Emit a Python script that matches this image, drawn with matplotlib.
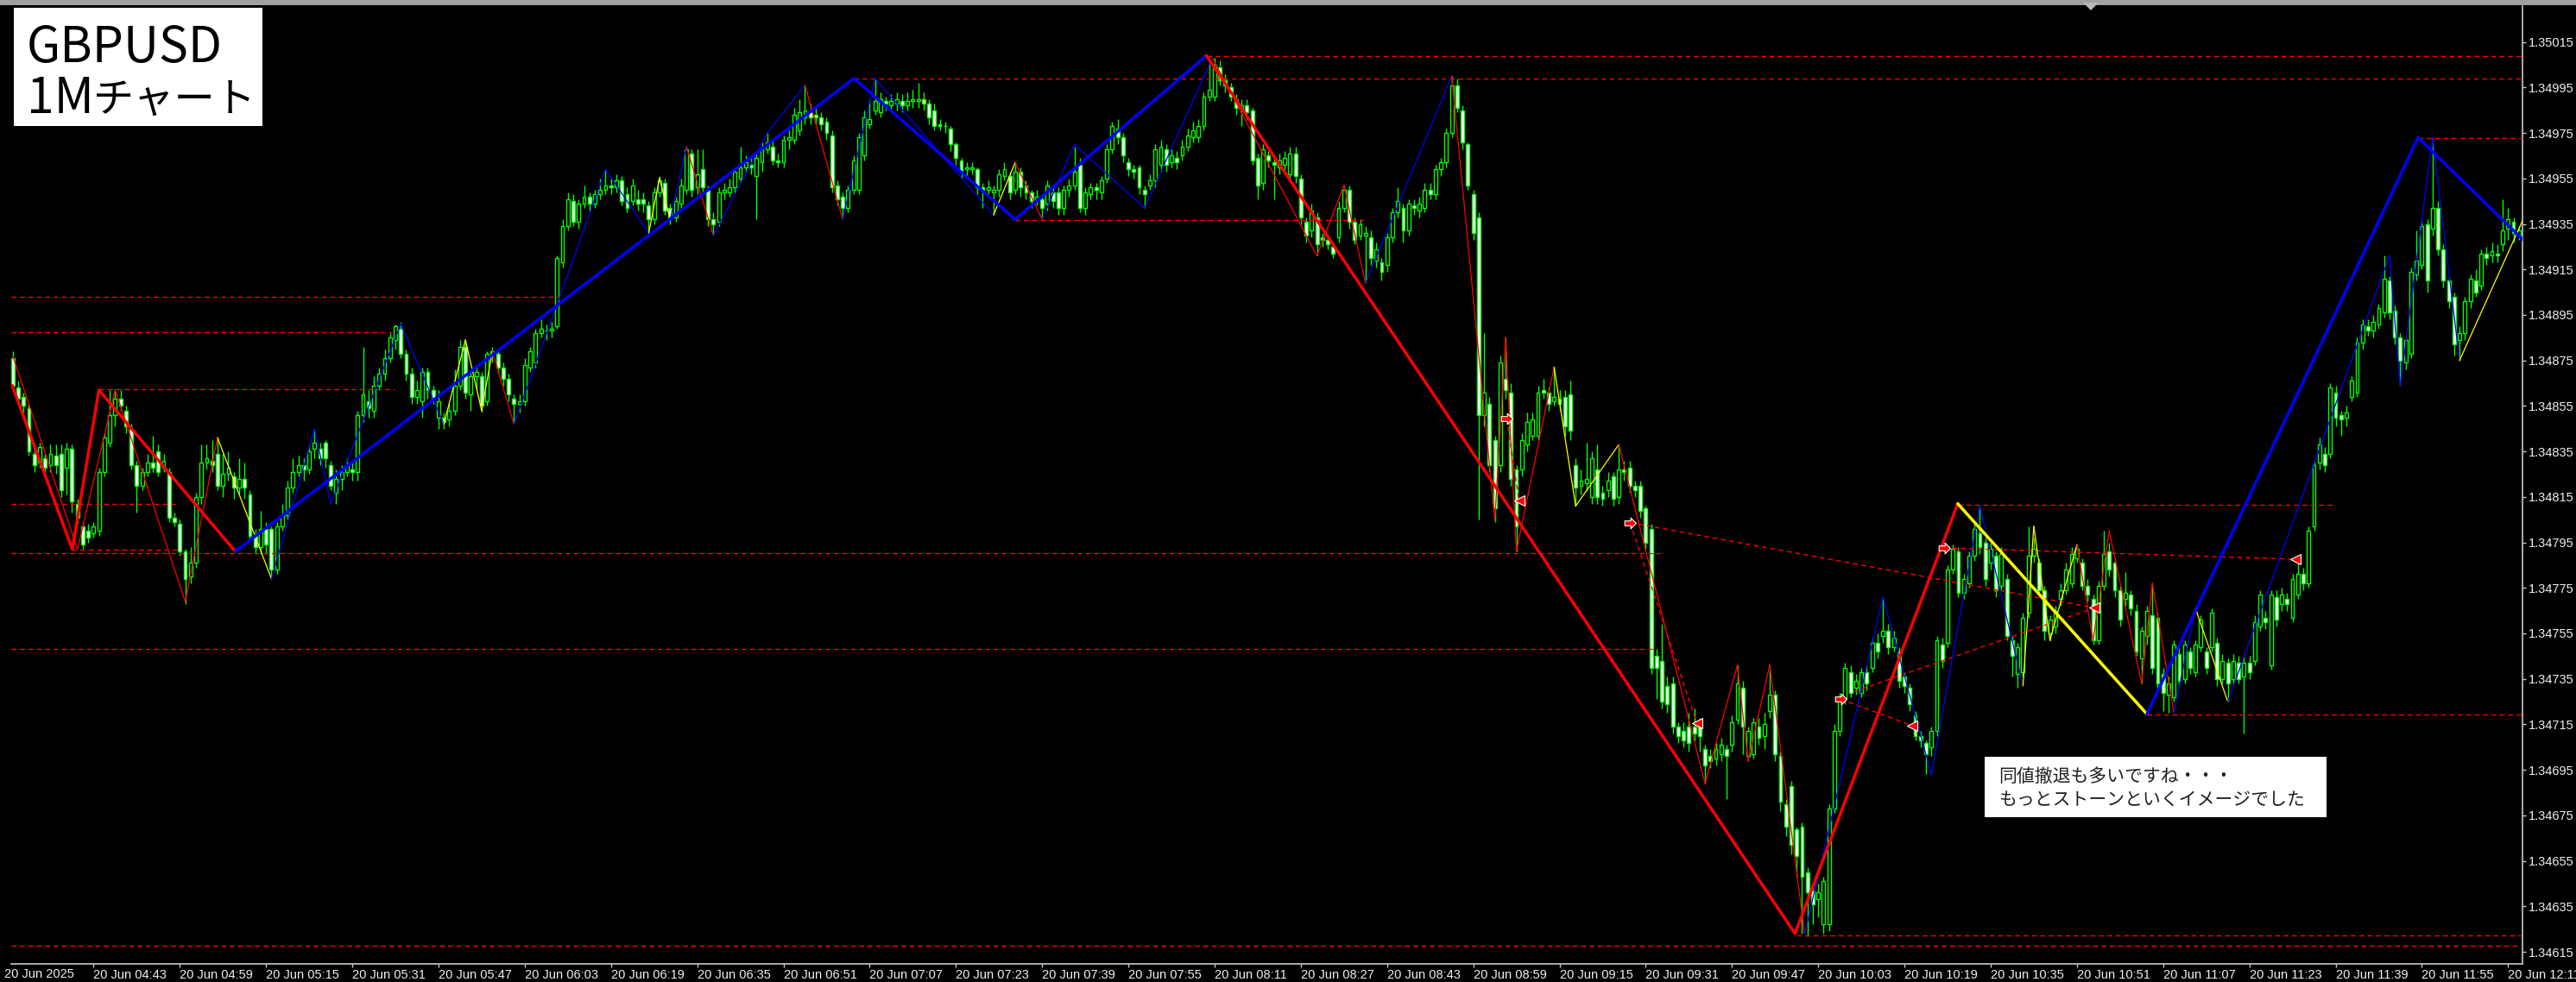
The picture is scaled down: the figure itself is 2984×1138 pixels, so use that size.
import matplotlib
matplotlib.use('Agg')
import matplotlib.pyplot as plt
from matplotlib.patches import Rectangle, Polygon
from matplotlib.path import Path
import numpy as np

W, H, DPI = 2984, 1138, 100
BASE = 1.34000      # prices below are in points (1e-5) above BASE
PT = 1e-5

# minute index 0 = 20 Jun 04:27 ; candles are minutes 1..466 (04:28 .. 12:13)
first_minute = 1
opens = [876,863,859,854,834,830,832,829,833,834,828,836,812,802,800,799,800,826,839,851,
858,853,845,829,820,826,830,835,828,826,806,803,791,780,786,815,830,831,834,820,
825,824,819,823,816,798,793,801,801,783,802,807,819,826,829,827,836,836,839,829,
817,823,826,827,826,851,857,853,864,869,876,884,889,878,869,859,857,870,862,850,
850,849,853,864,881,860,868,868,857,878,878,872,867,858,856,857,872,874,887,888,
888,890,918,934,945,936,944,947,944,948,950,952,951,954,948,945,946,946,943,937,
949,953,942,938,944,950,966,951,959,950,937,936,949,949,951,955,960,961,956,962,
968,969,963,962,972,972,976,982,984,983,982,980,974,952,947,942,950,950,965,979,
985,984,989,987,988,989,987,989,989,990,988,985,979,978,977,970,963,959,959,959,
951,950,949,950,956,956,950,958,952,949,946,946,944,949,949,942,950,952,961,942,
948,951,949,955,968,977,973,962,959,960,950,952,954,961,968,962,964,965,969,973,
973,978,991,991,1004,998,995,990,986,987,985,964,953,965,962,960,961,957,966,955,
936,932,938,929,928,925,929,942,950,936,930,930,929,919,918,917,929,940,942,932,
943,941,942,950,948,959,962,975,996,985,970,948,938,851,856,840,829,867,861,827,
827,838,842,842,862,861,857,858,859,860,829,820,821,815,827,817,818,824,815,827,
828,820,820,810,801,745,743,732,733,714,712,714,714,716,704,701,700,702,704,706,
717,731,701,702,714,710,721,728,701,680,688,669,670,650,642,638,627,627,678,712,
726,738,731,729,738,740,751,754,756,749,747,736,731,719,710,707,705,712,750,751,
783,791,773,777,789,799,795,786,789,776,779,752,737,738,764,789,786,774,755,758,
770,774,777,788,786,776,770,752,776,791,786,774,770,772,765,744,754,763,762,737,
728,727,746,735,747,738,749,747,749,751,735,742,735,742,736,742,743,758,762,741,
771,768,770,762,772,781,777,802,830,834,834,861,851,850,859,861,883,890,888,891,
896,910,897,885,874,878,913,917,935,933,942,924,910,903,884,887,901,910,908,922,
921,922,926,933,936,930]
highs = [879,866,861,856,836,839,834,838,838,838,839,838,814,804,803,804,828,843,862,862,
862,855,847,831,828,834,842,838,834,828,808,805,792,793,817,838,838,840,841,834,
835,826,832,830,818,801,809,804,802,804,812,822,832,833,832,838,845,839,840,831,
827,829,832,831,853,881,862,868,872,880,887,891,892,880,872,866,872,872,864,862,
852,856,871,884,883,870,872,870,879,881,880,874,869,860,860,876,881,889,893,891,
892,921,937,949,948,946,952,949,950,955,959,955,957,956,951,955,950,949,945,951,
956,955,944,947,955,969,968,968,968,952,940,951,953,955,960,969,965,964,967,971,
975,972,966,974,976,986,990,996,988,987,984,982,976,954,949,952,965,975,985,990,
999,993,991,992,993,992,993,994,997,993,990,988,981,980,978,971,964,962,962,960,
953,954,952,959,962,958,962,960,954,950,950,948,954,952,951,952,955,969,964,951,
953,953,956,970,980,981,975,964,961,961,952,957,970,972,970,968,967,972,977,980,
981,993,1006,1008,1007,1001,997,992,990,990,986,966,970,967,965,966,967,969,969,957,
938,944,940,931,930,927,945,952,952,938,937,934,932,927,920,931,942,951,944,946,
946,947,953,953,961,964,977,1000,999,987,971,950,940,887,859,842,877,885,865,829,
843,852,852,864,867,863,872,862,862,866,832,827,839,835,838,820,826,826,838,831,
831,822,822,811,803,748,759,736,736,716,716,720,722,718,706,704,707,709,706,719,
741,734,714,718,718,720,741,730,703,682,690,670,672,652,645,645,648,680,715,729,
742,741,737,740,741,753,755,771,759,756,749,738,733,721,712,708,714,754,753,785,
794,793,781,791,803,811,797,795,791,793,781,754,751,764,802,797,788,776,763,767,
777,786,793,794,788,779,772,778,800,795,788,776,782,774,768,758,767,777,764,740,
736,752,750,752,749,752,763,749,766,753,746,744,746,745,745,745,763,774,765,774,
774,775,773,781,786,784,802,831,841,837,865,864,853,855,868,885,893,893,895,900,
921,912,899,887,886,916,932,936,937,973,945,926,912,905,890,903,913,915,924,925,
927,926,946,942,938,934]
lows = [862,855,852,833,826,828,825,826,825,815,816,808,803,792,795,797,798,824,837,846,
853,843,827,808,818,824,826,824,826,804,802,789,768,777,784,812,827,826,818,815,
822,814,816,814,796,790,790,790,779,781,800,805,817,824,822,825,832,829,828,818,
812,818,824,822,822,848,850,850,862,866,874,880,876,866,856,856,850,858,856,845,
845,846,851,862,858,853,862,852,855,874,869,864,857,847,852,855,870,872,885,884,
885,889,916,932,934,933,942,941,942,946,948,948,949,943,940,943,941,940,931,935,
947,939,935,936,942,948,947,948,948,934,930,934,946,947,949,953,958,957,937,958,
966,961,960,960,968,970,974,979,979,979,976,972,949,943,937,940,948,948,963,977,
983,982,985,985,985,984,985,986,986,985,979,976,976,975,967,961,955,956,957,948,
942,947,939,947,954,946,948,947,946,942,943,937,941,942,939,939,947,950,940,939,
946,946,946,953,966,970,962,956,955,948,942,950,951,958,958,960,959,963,967,971,
971,976,989,989,996,993,989,983,978,981,961,946,950,960,946,957,958,955,953,935,
927,929,921,925,924,920,927,940,933,926,928,909,917,916,910,914,927,938,927,930,
939,938,940,946,946,956,960,973,984,968,950,928,805,846,826,804,826,858,820,791,
824,835,840,840,858,853,855,853,842,840,811,816,818,812,812,811,815,811,812,822,
817,815,806,792,737,726,722,720,711,707,705,703,708,703,689,696,697,699,682,703,
715,702,699,700,706,704,718,699,677,666,658,648,623,622,627,630,623,624,676,710,
724,727,728,727,730,738,744,751,746,747,731,729,721,708,705,693,701,710,740,749,
781,771,770,775,787,790,776,783,771,774,752,736,731,736,762,786,772,752,752,755,
767,772,775,786,774,769,750,750,774,780,771,758,767,763,745,733,750,737,730,721,
720,725,731,733,737,736,747,737,747,732,733,725,733,733,711,735,741,756,757,739,
758,765,765,760,770,774,775,800,827,826,832,846,842,846,857,859,880,886,885,889,
894,893,882,864,871,876,910,915,905,930,921,907,898,877,875,884,898,903,906,917,
918,918,923,928,927,928]
closes = [864,858,855,835,829,837,828,834,829,818,836,813,806,794,797,802,826,841,851,858,
855,846,829,820,826,830,828,826,831,806,804,791,779,786,815,830,832,829,820,825,
828,819,823,819,798,793,801,794,783,802,807,819,826,829,827,835,839,832,832,820,
823,826,829,826,851,860,854,864,869,876,885,890,878,869,859,862,870,862,858,857,
848,853,864,881,861,868,870,855,878,879,872,867,860,856,857,873,879,887,889,888,
889,920,934,946,936,944,947,944,948,950,952,951,954,945,942,952,944,944,937,949,
954,941,938,945,952,968,950,957,951,937,935,949,950,951,958,960,962,960,964,968,
971,963,962,972,973,983,984,985,982,982,979,975,951,946,942,950,963,973,982,981,
989,990,988,989,990,987,989,990,990,988,982,978,978,978,970,964,958,960,960,951,
950,951,950,957,959,949,958,951,949,945,947,942,952,945,942,950,952,958,942,949,
951,950,954,968,978,973,965,959,958,951,948,954,968,969,961,965,962,969,974,976,
978,991,994,1005,998,996,991,986,987,984,963,952,968,963,961,963,964,966,956,938,
930,941,926,928,926,922,942,950,936,928,935,931,920,924,914,929,940,945,932,944,
942,944,950,948,959,962,975,996,986,971,952,931,851,861,829,810,874,862,823,802,
840,848,849,861,861,856,859,856,846,844,819,822,823,832,815,814,822,814,827,826,
820,818,809,795,740,740,725,724,714,710,708,707,711,710,697,699,704,706,701,716,
733,714,712,716,709,715,728,702,681,670,662,657,648,641,636,641,646,678,712,727,
740,729,734,738,733,751,747,756,749,753,734,732,724,710,708,702,712,752,743,783,
792,773,779,789,801,793,779,792,774,790,754,745,749,762,789,792,774,756,761,765,
774,783,790,792,776,772,752,776,790,783,774,761,773,766,747,756,765,740,733,729,
733,750,734,750,740,750,761,740,764,735,743,733,743,735,742,738,760,772,760,772,
761,772,768,779,781,777,800,829,838,829,863,850,849,852,866,883,891,888,892,898,
911,896,885,875,884,914,919,934,910,942,924,910,901,882,887,901,911,905,922,920,
923,921,932,937,931,932]

# time axis labels (minute index, text)
tick_minutes = [16,32,48,64,80,96,112,128,144,160,176,192,208,224,240,256,272,288,304,320,
                336,352,368,384,400,416,432,448,464]
tick_labels = ['20 Jun 04:43','20 Jun 04:59','20 Jun 05:15','20 Jun 05:31','20 Jun 05:47',
               '20 Jun 06:03','20 Jun 06:19','20 Jun 06:35','20 Jun 06:51','20 Jun 07:07',
               '20 Jun 07:23','20 Jun 07:39','20 Jun 07:55','20 Jun 08:11','20 Jun 08:27',
               '20 Jun 08:43','20 Jun 08:59','20 Jun 09:15','20 Jun 09:31','20 Jun 09:47',
               '20 Jun 10:03','20 Jun 10:19','20 Jun 10:35','20 Jun 10:51','20 Jun 11:07',
               '20 Jun 11:23','20 Jun 11:39','20 Jun 11:55','20 Jun 12:11']
first_label = '20 Jun 2025'
price_ticks = [1.34615,1.34635,1.34655,1.34675,1.34695,1.34715,1.34735,1.34755,1.34775,
               1.34795,1.34815,1.34835,1.34855,1.34875,1.34895,1.34915,1.34935,1.34955,
               1.34975,1.34995,1.35015]

# major zigzag (thick) : colour, pivots (minute, points)
thick_lines = [
    ('#FF0000', [(0.9, 864), (12.05, 792), (17.0, 862), (42.3, 791)]),
    ('#0000FF', [(42.3, 791), (157.1, 999), (187.0, 937), (222.5, 1009)]),
    ('#FF0000', [(222.5, 1009), (331.7, 623), (361.9, 812)]),
    ('#FFFF00', [(361.9, 812), (397.0, 719.5)]),
    ('#0000FF', [(397.0, 719.5), (447.3, 973), (466.8, 928)]),
]
# minor zigzag (thin) : pivots (minute, points, colour of the leg that starts there)
thin_pivots = [
    (1, 877, 'r'), (13, 792, 'r'), (20, 862, 'r'), (33, 769, 'r'), (39, 841, 'y'),
    (49, 779, 'b'), (57, 845, 'b'), (60, 812, 'b'), (73, 891, 'b'), (81, 847, 'y'),
    (85, 884, 'y'), (88, 853, 'y'), (90, 879, 'r'), (94, 847, 'b'), (111, 959, 'b'),
    (119, 931, 'y'), (121, 955, 'y'), (123, 937, 'b'), (126, 969, 'r'), (131, 930, 'b'),
    (141, 975, 'b'), (148, 996, 'r'), (155, 937, 'b'), (161, 999, 'b'), (183, 939, 'y'),
    (187, 962, 'r'), (192, 937, 'b'), (198, 970, 'b'), (211, 942, 'b'), (223.6, 1008, 'r'),
    (243, 921, 'r'), (248, 952, 'r'), (252, 909, 'b'), (268, 1000, 'r'), (276, 805, 'r'),
    (278, 885, 'r'), (280, 791, 'r'), (287, 872, 'y'), (291, 811, 'y'), (299, 838, 'r'),
    (315, 689, 'r'), (321, 741, 'r'), (323, 699, 'r'), (327, 741, 'r'), (333.5, 623, 'b'),
    (348, 771, 'b'), (357, 693, 'b'), (366, 811, 'b'), (374, 732, 'y'), (376, 802, 'y'),
    (379, 752, 'y'), (384, 794, 'r'), (387, 752, 'r'), (390, 800, 'r'), (396, 733, 'r'),
    (398, 777, 'r'), (402, 720, 'b'), (406, 766, 'y'), (412, 725, 'b'), (442, 921, 'b'),
    (444, 864, 'b'), (450, 973, 'b'), (455, 875, 'y'), (466.8, 937, 'y'),
]
# horizontal dashed levels: (points, start minute, end minute)
levels = [
    (1008.8, 222.5, 467), (999.0, 157.1, 467), (972.7, 447.3, 467), (936.7, 187.0, 251.7),
    (903.0, 0.7, 102.3), (887.5, 0.7, 71.4), (862.5, 17.0, 71.8), (811.9, 0.7, 31.6),
    (811.7, 361.9, 431.6), (790.3, 0.7, 306.7), (748.2, 0.7, 305.4), (719.5, 397.0, 467),
    (622.2, 332.0, 466.4), (617.7, 0.7, 466.4), (791.8, 12.0, 31.6),
]
# sloped dashed lines between arrow marks
slopes = [
    ((278.2, 849.5), (280.5, 813.3)), ((301.1, 803.7), (313.5, 715.4)),
    ((301.1, 803.7), (387.3, 766.2)), ((340.2, 726.0), (353.4, 714.5)),
    ((342.6, 729.4), (387.3, 766.2)), ((359.3, 792.6), (424.5, 787.6)),
]
right_arrows = [(278.2, 849.5), (301.1, 803.7), (340.2, 726.0), (359.3, 792.6)]
left_marks = [(280.5, 813.3), (313.5, 715.4), (353.4, 714.5), (387.3, 766.2), (424.5, 787.6)]

title_line1 = 'GBPUSD'
title_line2 = ('1M', 'チャート')
note_lines = ['同値撤退も多いですね・・・', 'もっとストーンといくイメージでした']

# ---------------------------------------------------------------------------
CJK = ['Noto Sans CJK JP', 'DejaVu Sans']
UI = ['Liberation Sans', 'DejaVu Sans']
plt.rcParams['font.family'] = UI

fig = plt.figure(figsize=(W / DPI, H / DPI), dpi=DPI, facecolor='black')
L, R, T, B = 13, 2921.7, 7, 1117
ax = fig.add_axes([L / W, 1 - B / H, (R - L) / W, (B - T) / H])
ax.set_facecolor('black')

def P(v):
    return BASE + np.asarray(v, dtype=float) * PT

o = P(opens); h = P(highs); lo = P(lows); c = P(closes)
x = np.arange(first_minute, first_minute + len(opens))
LIME = '#00FF00'
ax.vlines(x, lo, h, color=LIME, lw=1.0, zorder=2)
bear = c < o
ax.bar(x, c - o, bottom=o, width=0.62, facecolor=np.where(bear, 'white', 'black'),
       edgecolor=LIME, linewidth=1.0, zorder=3)

dash = (0, (4.0, 3.0))
for v, m0, m1 in levels:
    ax.plot([m0, m1], [P(v), P(v)], color='#FF0000', lw=1.0, ls=dash, zorder=4)
for (m0, v0), (m1, v1) in slopes:
    ax.plot([m0, m1], [P(v0), P(v1)], color='#FF0000', lw=1.0, ls=dash, zorder=4)

cmap = {'r': '#FF0000', 'b': '#0000FF', 'y': '#FFFF00'}
for a, b in zip(thin_pivots[:-1], thin_pivots[1:]):
    ax.plot([a[0], b[0]], [P(a[1]), P(b[1])], color=cmap[a[2]], lw=0.9, zorder=5)
for col, pts in thick_lines:
    ms, vs = zip(*pts)
    ax.plot(ms, P(vs), color=col, lw=2.5, zorder=6, solid_capstyle='round')

arrow = Path([(-1.0, -0.45), (0.1, -0.45), (0.1, -1.0), (1.1, 0.0), (0.1, 1.0),
              (0.1, 0.45), (-1.0, 0.45), (-1.0, -0.45)])
ms, vs = zip(*right_arrows)
ax.plot(ms, P(vs), ls='none', marker=arrow, ms=10, mfc='#FF0000', mec='white', mew=0.8, zorder=7)
ms, vs = zip(*left_marks)
ax.plot(ms, P(vs), ls='none', marker='<', ms=8, mfc='#FF0000', mec='white', mew=0.8, zorder=7)

ax.set_yticks(price_ticks)
ax.set_yticklabels([f'{p:.5f}' for p in price_ticks])
ax.set_xticks(tick_minutes)
ax.set_xticklabels(tick_labels, ha='left')
ax.set_xlim(0.72, 466.63)
ax.set_ylim(P(609.7), P(1030.8))

for s in ('top', 'left'):
    ax.spines[s].set_visible(False)
for s in ('right', 'bottom'):
    ax.spines[s].set_color('#C8C8C8')
    ax.spines[s].set_linewidth(1.2)

TXT = '#F0F0F0'
ax.yaxis.tick_right()
ax.tick_params(axis='y', direction='out', length=3, width=1.0, color='#C8C8C8',
               labelcolor=TXT, labelsize=10.5, pad=2.5)
ax.tick_params(axis='x', direction='out', length=3, width=1.0, color='#C8C8C8',
               labelcolor=TXT, labelsize=10.5, pad=1.0)

def fx(px):
    return px / W
def fy(py):
    return 1 - py / H

fig.text(fx(86), fy(1122.0), first_label, ha='right', va='top', color=TXT,
         fontsize=10.5, family=UI)

# window frame strip at the top, with the chart-shift triangle
fig.add_artist(Rectangle((0, fy(6)), 1, 6 / H, transform=fig.transFigure,
                         facecolor='#A0A0A0', edgecolor='none', zorder=9))
fig.add_artist(Polygon([(fx(2413), fy(3)), (fx(2431), fy(3)), (fx(2422), fy(12))],
                       closed=True, transform=fig.transFigure, facecolor='#B8B8B8',
                       edgecolor='none', zorder=9))

# title box
fig.add_artist(Rectangle((fx(16), fy(146)), 288 / W, 137 / H, transform=fig.transFigure,
                         facecolor='white', edgecolor='none', zorder=10))
fig.text(fx(31), fy(72), title_line1, ha='left', va='baseline', fontsize=41,
         color='black', family=CJK, zorder=11)
fig.text(fx(31), fy(131), title_line2[0], ha='left', va='baseline', fontsize=41,
         color='black', family=CJK, zorder=11)
fig.text(fx(108), fy(131), title_line2[1], ha='left', va='baseline', fontsize=34,
         color='black', family=CJK, zorder=11)

# note box
fig.add_artist(Rectangle((fx(2299), fy(947)), 396 / W, 70 / H, transform=fig.transFigure,
                         facecolor='white', edgecolor='none', zorder=10))
fig.text(fx(2315), fy(900), note_lines[0], ha='left', va='center', fontsize=15,
         color='#202020', family=CJK, zorder=11)
fig.text(fx(2315), fy(928), note_lines[1], ha='left', va='center', fontsize=15,
         color='#202020', family=CJK, zorder=11)

fig.savefig('out.png', dpi=DPI, facecolor='black')
